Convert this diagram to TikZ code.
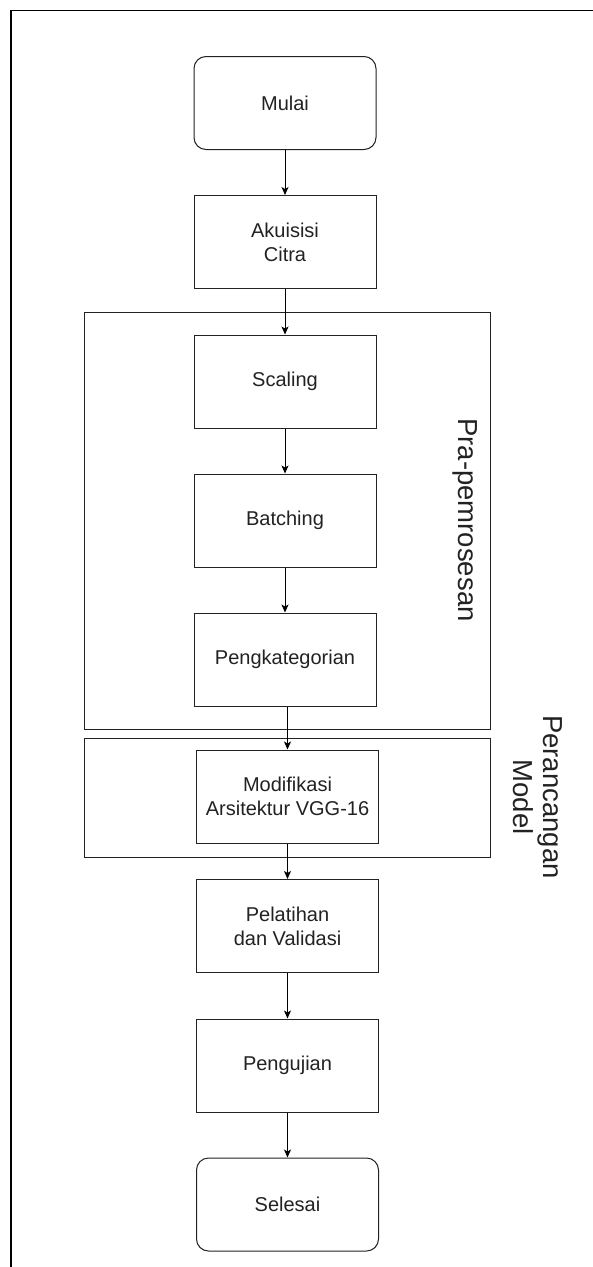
\documentclass[tikz,border=0pt]{standalone}
\usepackage{fontspec}
\setmainfont{Liberation Sans}
\usetikzlibrary{arrows.meta}
\definecolor{ink}{HTML}{222222}
\tikzset{
  stepbox/.style={draw=ink, line width=1pt, minimum width=182pt, minimum height=93pt, inner sep=0pt, align=center, font=\fontsize{20}{24}\selectfont, text=ink},
  termbox/.style={stepbox, rounded corners=12pt},
  groupbox/.style={draw=ink, line width=1pt, inner sep=0pt},
  grouplabel/.style={rotate=-90, align=center, font=\fontsize{27.5}{30.5}\selectfont, text=ink},
  flow/.style={draw=black, line width=1pt, -{Stealth[length=8pt,width=7pt,inset=2pt]}}
}
\begin{document}
\begin{tikzpicture}[x=1pt,y=-1pt]
\useasboundingbox (0,0) rectangle (592,1267);
\fill[white] (0,0) rectangle (592,1267);
\coordinate (fa) at (11,10.5);
\coordinate (fb) at (600,10.5);
\coordinate (fc) at (11,1280);
\draw[line width=1.5pt, black] (fb) -- (fa) -- (fc);

\node[groupbox, minimum width=406pt, minimum height=417pt] (pre) at (287,520.5) {};
\node[groupbox, minimum width=406pt, minimum height=119pt] (grpmodel) at (287,797.5) {};

\node[termbox] (mulai) at (285,103) {Mulai};
\node[stepbox] (akuisisi) at (285,242) {Akuisisi\\Citra};
\node[stepbox] (scaling) at (285,381.5) {Scaling};
\node[stepbox] (batching) at (285,520.5) {Batching};
\node[stepbox] (kategori) at (285,659.5) {Pengkategorian};
\node[stepbox] (modif) at (287.5,796.5) {Modifikasi\\Arsitektur VGG-16};
\node[stepbox] (latih) at (287.5,926) {Pelatihan\\dan Validasi};
\node[stepbox] (uji) at (287.5,1065.5) {Pengujian};
\node[termbox] (selesai) at (287.5,1204.5) {Selesai};

\node[grouplabel] (lblpre) at (465,520) {Pra-pemrosesan};
\node[grouplabel] (lblmodel) at (538,797) {Perancangan\\Model};

\draw[flow] (mulai) -- (akuisisi);
\draw[flow] (akuisisi) -- (scaling);
\draw[flow] (scaling) -- (batching);
\draw[flow] (batching) -- (kategori);
\draw[flow] (kategori.south -| modif.north) -- (modif.north);
\draw[flow] (modif) -- (latih);
\draw[flow] (latih) -- (uji);
\draw[flow] (uji) -- (selesai);
\end{tikzpicture}
\end{document}
